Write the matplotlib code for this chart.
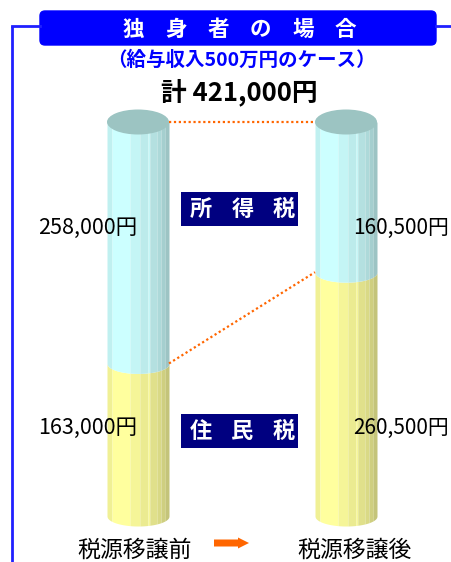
import numpy as np
import matplotlib
matplotlib.use('Agg')
import matplotlib.pyplot as plt
from matplotlib.patches import Ellipse, FancyBboxPatch, FancyArrow

plt.rcParams['font.family'] = ['Noto Sans CJK JP', 'DejaVu Sans']

# データ（円）
scenarios = ['税源移譲前', '税源移譲後']
income_tax = [258000, 160500]     # 所得税
resident_tax = [163000, 260500]   # 住民税
total = 421000

# 円柱の縦縞（左端からの割合）と明るさ
stripe_edges = [0, .08, .37, .53, .66, .69, .81, .87, .94, 1.0]
stripe_shade = [0.94, 1.0, 0.96, 0.92, 0.97, 0.88, 0.85, 0.81, 0.77]
cyan = np.array([0.80, 1.0, 1.0])
yellow = np.array([1.0, 1.0, 0.62])
top_col = '#9cc4c2'
orange = '#ff6600'

W, H = 452, 562
fig = plt.figure(figsize=(W / 100, H / 100), dpi=100)

# 円柱用の軸（値の座標）
y0_px, y1_px = 516, 122          # 0円と合計の位置
k = total / (y0_px - y1_px)
ax = fig.add_axes([0, 0, 1, 1])
ax.patch.set_alpha(0)
cx0, cx1 = 138, 346
ux = cx1 - cx0
ax.set_xlim(-cx0 / ux, (W - cx0) / ux)
ax.set_ylim(-(H - y0_px) * k, total + y1_px * k)
ax.axis('off')

# 飾り用の軸（ピクセル座標）、円柱の上に重ねる
ov = fig.add_axes([0, 0, 1, 1])
ov.patch.set_alpha(0)
ov.set_zorder(2)
ov.set_xlim(0, W)
ov.set_ylim(H, 0)
ov.axis('off')

width = 62 / ux
a = width / 2
sag = 10 * k
top_h = 12.5 * k

for i in range(len(scenarios)):
    res = resident_tax[i]
    tot = res + income_tax[i]
    for j in range(len(stripe_shade)):
        xs = np.linspace(i - a + stripe_edges[j] * width, i - a + stripe_edges[j + 1] * width, 30)
        s = sag * np.sqrt(np.clip(1 - ((xs - i) / a) ** 2, 0, 1))
        ax.fill_between(xs, -s, res - s, color=np.clip(yellow * stripe_shade[j], 0, 1), lw=0)
        ax.fill_between(xs, res - s, tot, color=np.clip(cyan * stripe_shade[j], 0, 1), lw=0)
    ax.add_patch(Ellipse((i, tot), width, 2 * top_h, color=top_col, lw=0))

# 点線
ax.plot([a, 1 - a], [total, total], color=orange, lw=1.6, ls=(0, (1, 1.2)))
ax.plot([a, 1 - a], [resident_tax[0], resident_tax[1]], color=orange, lw=1.6, ls=(0, (1, 1.2)))

# 枠線
blue = '#2020ff'
ov.plot([12, 12], [26, H], color=blue, lw=2, solid_capstyle='butt')
ov.plot([12, 40], [26, 26], color=blue, lw=2)
ov.plot([436, W], [26, 26], color=blue, lw=2)

# タイトル
ov.add_patch(FancyBboxPatch((40, 11), 396, 34, boxstyle='round,pad=0,rounding_size=5',
                            fc='#0000ff', ec='#0000ff', lw=1))
for n, ch in enumerate('独身者の場合'):
    ov.text(133 + n * 42.5, 29, ch, color='white', fontsize=15.5, fontweight='bold',
            ha='center', va='center')
ov.text(241, 60, '（給与収入500万円のケース）', color='#0000ff', fontsize=14,
        fontweight='bold', ha='center', va='center')
ov.text(239, 92, '計 421,000円', color='black', fontsize=18.5, fontweight='bold',
        ha='center', va='center')

# 税目ボックス
for yc, name in [(209, '所得税'), (431, '住民税')]:
    ov.add_patch(plt.Rectangle((181, yc - 17), 117, 34, color='#000080', lw=0))
    for n, ch in enumerate(name):
        ov.text(201 + n * 41.5, yc, ch, color='white', fontsize=16, fontweight='bold',
                ha='center', va='center')

# 金額ラベル
ov.text(137, 228, f'{income_tax[0]:,}円', fontsize=15.5, ha='right', va='center')
ov.text(137, 428, f'{resident_tax[0]:,}円', fontsize=15.5, ha='right', va='center')
ov.text(353, 228, f'{income_tax[1]:,}円', fontsize=15, ha='left', va='center')
ov.text(353, 428, f'{resident_tax[1]:,}円', fontsize=15, ha='left', va='center')

# 下のラベル
ov.text(135, 550, scenarios[0], fontsize=16.5, ha='center', va='center')
ov.text(355, 550, scenarios[1], fontsize=16.5, ha='center', va='center')
ov.add_patch(FancyArrow(214, 543, 24, 0, width=7, head_width=11, head_length=11,
                        length_includes_head=False, color=orange, lw=0))

fig.savefig('out.png', dpi=100)
